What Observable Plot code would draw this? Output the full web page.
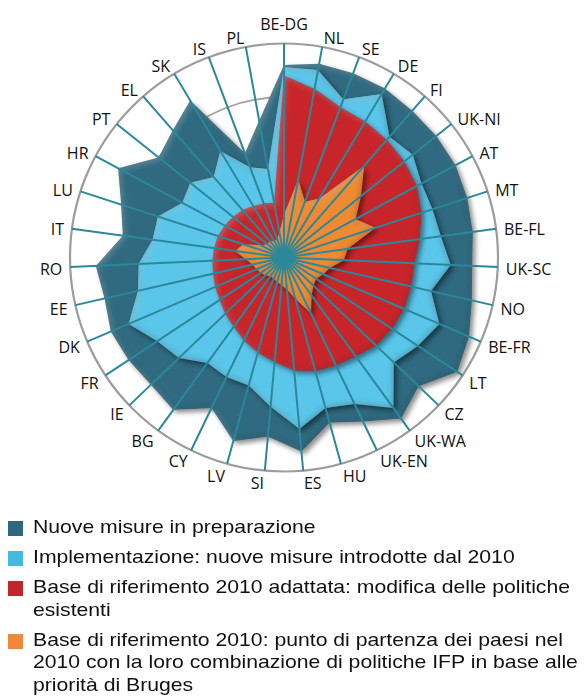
<!DOCTYPE html>
<html>
<head>
<meta charset="utf-8">
<script src="https://cdn.jsdelivr.net/npm/d3@7"></script>
<script src="https://cdn.jsdelivr.net/npm/@observablehq/plot@0.6"></script>
<style>
  html, body { margin: 0; padding: 0; background: #fff; }
  #chart svg { display: block; }
  #chart g[aria-label="line"] path { filter: url(#bevel); }
  #legend { font-family: "Liberation Sans", Arial, sans-serif; font-size: 19px;
            line-height: 22.5px; color: #111; margin-top: 11px; }
  .item { position: relative; padding-left: 33px; margin-bottom: 7.5px; white-space: nowrap; }
  .sw { position: absolute; left: 8px; top: 5px; width: 15px; height: 15px; }
  .txt { display: inline-block; transform: scaleX(1.115); transform-origin: 0 0; }
</style>
</head>
<body>
<svg width="0" height="0" style="position:absolute">
  <defs>
    <filter id="bevel" x="-8%" y="-8%" width="120%" height="120%" color-interpolation-filters="sRGB">
      <feGaussianBlur in="SourceAlpha" stdDeviation="2.5" result="blur"/>
      <feOffset in="blur" dx="2.5" dy="3" result="offBlur"/>
      <feFlood flood-color="#000" flood-opacity="0.45" result="sc"/>
      <feComposite in="sc" in2="offBlur" operator="in" result="shadow"/>
      <feGaussianBlur in="SourceAlpha" stdDeviation="3" result="ib"/>
      <feComposite in="SourceAlpha" in2="ib" operator="arithmetic" k1="0" k2="1" k3="-1" k4="0" result="edge"/>
      <feFlood flood-color="#000" flood-opacity="0.35" result="ec"/>
      <feComposite in="ec" in2="edge" operator="in" result="edgeDark"/>
      <feOffset in="ib" dx="2" dy="2" result="ibo"/>
      <feComposite in="SourceAlpha" in2="ibo" operator="arithmetic" k1="0" k2="1" k3="-1" k4="0" result="hl"/>
      <feFlood flood-color="#fff" flood-opacity="0.3" result="hc"/>
      <feComposite in="hc" in2="hl" operator="in" result="hlc"/>
      <feMerge>
        <feMergeNode in="shadow"/>
        <feMergeNode in="SourceGraphic"/>
        <feMergeNode in="edgeDark"/>
        <feMergeNode in="hlc"/>
      </feMerge>
    </filter>
  </defs>
</svg>
<div id="chart"></div>
<div id="legend"></div>
<script>
// ---- data ----
const countries = ["BE-DG","NL","SE","DE","FI","UK-NI","AT","MT","BE-FL","UK-SC","NO","BE-FR","LT","CZ","UK-WA","UK-EN","HU","ES","SI","LV","CY","BG","IE","FR","DK","EE","RO","IT","LU","HR","PT","EL","SK","IS","PL"];
// cumulative outer edge of each layer (outer circle = 100)
const nuoveMisure     = [90,92,92,92,91,91,91,90,89,88,90,94,97,87,93,85,80,91,84,89,78,88,86,87,88,86,88,76,80,88,75,79,85.5,52,65];
const implementazione = [89,89,79,89,75,77,73,73,74,78,70.5,79,75,71,87,76,73,80.5,70,62,62,61,68,71,79,70,68,62,62,54,56,50,58,45,42];
const baseAdattata    = [85,80,75,74,73,72,70.5,67.5,64,61,61,61,60.5,59.5,57,56,55,53,49,46,43,40,38,36,35,34,33.5,33,32.5,31.5,30.5,29.5,28,27,26];
const base2010        = [20,37,28,32,57,46,38,45,30,28,22,20,18,19,22,29,20,15,13,12,11,11,12,13,14,15,18,23,20,12,10,10,9,9,12];
const seriesNames = [
  ["Nuove misure in preparazione"],
  ["Implementazione: nuove misure introdotte dal 2010"],
  ["Base di riferimento 2010 adattata: modifica delle politiche", "esistenti"],
  ["Base di riferimento 2010: punto di partenza dei paesi nel", "2010 con la loro combinazione di politiche IFP in base alle", "priorità di Bruges"]
];
const seriesColors = ["#2f6a80", "#5ac6ea", "#c8252b", "#f08a30"];
const legendColors = ["#2e687e", "#45b9e2", "#c0272d", "#f0883a"];

// ---- layout ----
const CX = 283.5, CY = 257, R = 214;
const n = countries.length;
const ang = i => i * 2 * Math.PI / n;
const ring = vals => vals.map((v, i) => ({i, x: v * Math.sin(ang(i)), y: v * Math.cos(ang(i))}));
const px = 100 / R; // data units per pixel

const labelRows = countries.map((c, i) => {
  const a = ang(i), s = Math.sin(a), co = Math.cos(a);
  const rr = 100 + 8 * px;
  return {c, i, s, x: rr * s, y: rr * co - (2.5 - 2.5 * co) * px};
});

const layers = [nuoveMisure, implementazione, baseAdattata, base2010];
const teal = "#2b889b";
const origin = [{x: 0, y: 0}];
const lab = {x: "x", y: "y", text: "c", fontSize: 16, fontFamily: "Open Sans", fill: "#111"};

const chart = Plot.plot({
  width: 587, height: 505,
  x: {domain: [-100, 100], range: [CX - R, CX + R], axis: null},
  y: {domain: [-100, 100], range: [CY + R, CY - R], axis: null},
  marks: [
    ...[0.25, 0.5, 0.75].map(f => Plot.dot(origin, {x: "x", y: "y", r: R * f, fill: "none", stroke: "#a0a0a0", strokeWidth: 1.8})),
    Plot.dot(origin, {x: "x", y: "y", r: R, fill: "none", stroke: "#9c9c9c", strokeWidth: 2.2}),
    ...layers.map((vals, k) => Plot.line(ring(vals), {x: "x", y: "y", curve: "linear-closed", fill: seriesColors[k], stroke: "none"})),
    Plot.link(countries, {x1: () => 0, y1: () => 0, x2: (d, i) => 100 * Math.sin(ang(i)), y2: (d, i) => 100 * Math.cos(ang(i)), stroke: teal, strokeWidth: 2}),
    Plot.dot(origin, {x: "x", y: "y", r: 7, fill: teal}),
    Plot.text(labelRows.filter(d => d.s > 0.02), {...lab, textAnchor: "start", lineAnchor: "middle"}),
    Plot.text(labelRows.filter(d => d.s < -0.02), {...lab, textAnchor: "end", lineAnchor: "middle"}),
    Plot.text(labelRows.filter(d => Math.abs(d.s) <= 0.02), {...lab, y: () => 100 + 14 * px, textAnchor: "middle", lineAnchor: "bottom"})
  ]
});
document.getElementById("chart").appendChild(chart);

const legend = document.getElementById("legend");
seriesNames.forEach((lines, k) => {
  const item = document.createElement("div");
  item.className = "item";
  const sw = document.createElement("span");
  sw.className = "sw";
  sw.style.background = legendColors[k];
  item.appendChild(sw);
  const txt = document.createElement("span");
  txt.className = "txt";
  lines.forEach((t, j) => {
    if (j) txt.appendChild(document.createElement("br"));
    txt.appendChild(document.createTextNode(t));
  });
  item.appendChild(txt);
  legend.appendChild(item);
});
</script>
</body>
</html>
